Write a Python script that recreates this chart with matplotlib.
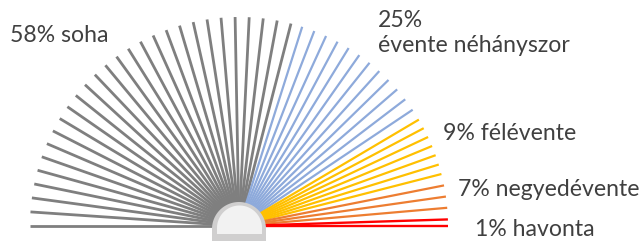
import numpy as np
import matplotlib
matplotlib.use('Agg')
import matplotlib.pyplot as plt
from matplotlib.collections import LineCollection
from matplotlib.patches import Polygon

# adatok
percents = [58, 25, 9, 7, 1]
labels = ['58% soha', '25%\névente néhányszor', '9% félévente',
          '7% negyedévente', '1% havonta']
line_counts = [28, 12, 7, 3, 2]

# stílus / elrendezés
colors = ['#7f7f7f', '#8eaadb', '#ffc000', '#ed7d31', '#ff0000']
widths = [2.0, 1.6, 1.6, 1.6, 1.7]
pads = [0, 3.2, 0, 3.2, 0]          # fok, a kategória szélein
label_pos = [(10, 35), (378, 33), (443, 133), (458, 190), (475, 230)]
cx, cy, R = 239, 226, 209

plt.rcParams['font.family'] = ['Lato', 'DejaVu Sans']

fig = plt.figure(figsize=(6.44, 2.41), dpi=100)
ax = fig.add_axes([0, 0, 1, 1])
ax.set_xlim(0, 644)
ax.set_ylim(241, 0)
ax.axis('off')

start = 180.0
for pct, n, col, lw, pad in zip(percents, line_counts, colors, widths, pads):
    end = start - pct / 100 * 180
    ang = np.radians(np.linspace(start - pad, end + pad, n))
    segs = [[(cx, cy), (cx + R * np.cos(a), cy - R * np.sin(a))] for a in ang]
    ax.add_collection(LineCollection(segs, colors=col, linewidths=lw,
                                     capstyle='butt', zorder=2))
    start = end

for txt, (x, y) in zip(labels, label_pos):
    ax.text(x, y, txt, fontsize=16.6, color='#404040', ha='left', va='center',
            linespacing=1.2)


def dome(r, c_y, bottom, x0):
    t = np.linspace(np.pi, 0, 80)
    pts = [(x0 - r, bottom)] + list(zip(x0 + r * np.cos(t), c_y - r * np.sin(t))) + [(x0 + r, bottom)]
    return pts


ax.add_patch(Polygon(dome(27, 229, 245, 239), closed=True, fc='#d0cfcf', ec='none', zorder=3))
ax.add_patch(Polygon(dome(22.5, 228, 234, 239.5), closed=True, fc='#f2f2f2', ec='none', zorder=4))

fig.savefig('out.png', dpi=100)
